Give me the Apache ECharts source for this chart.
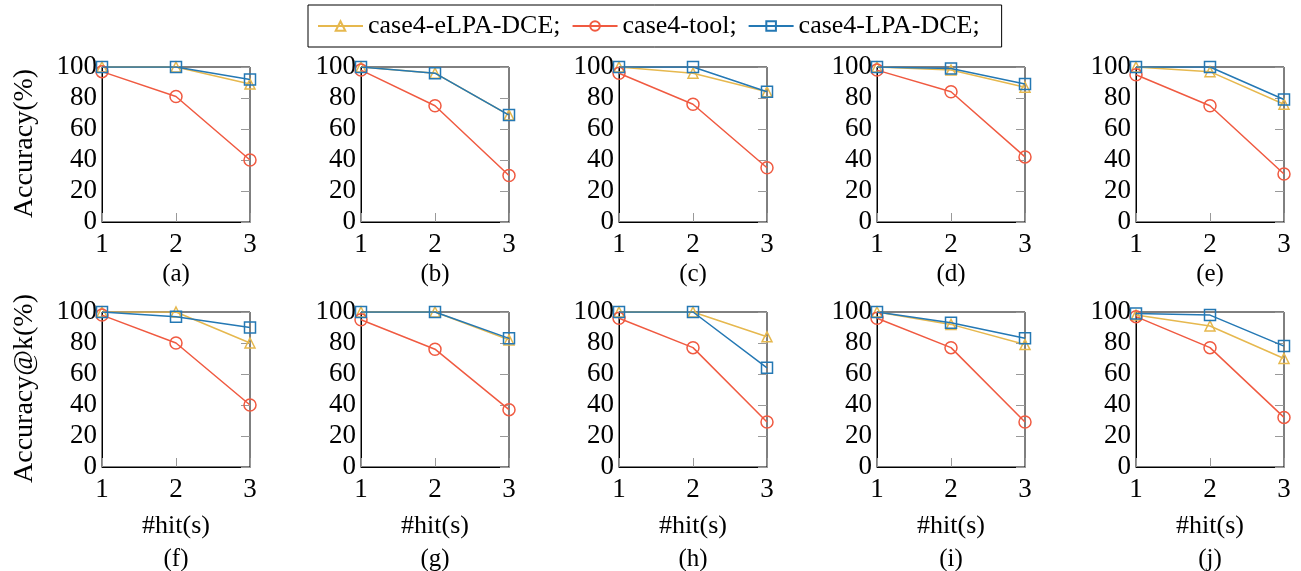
<!DOCTYPE html>
<html>
<head>
<meta charset="utf-8">
<script src="https://cdn.jsdelivr.net/npm/echarts@6/dist/echarts.min.js"></script>
<style>
html,body{margin:0;padding:0;background:#fff;}
#chart{width:1301px;height:571px;}
</style>
</head>
<body>
<div id="chart"></div>
<script>
// ---- data ----
const hits = [1, 2, 3];
const panelLabels = ['(a)', '(b)', '(c)', '(d)', '(e)', '(f)', '(g)', '(h)', '(i)', '(j)'];
const seriesNames = ['case4-eLPA-DCE;', 'case4-tool;', 'case4-LPA-DCE;'];
const yNames = ['Accuracy(%)', 'Accuracy@k(%)'];
const xName = '#hit(s)';
const yTicks = [0, 20, 40, 60, 80, 100];
const eLPA = [
  [100, 100, 89], [100, 96, 69], [100, 96, 84], [100, 98, 87], [100, 97, 76],
  [100, 100, 80], [100, 100, 82], [100, 100, 84], [100, 92, 79], [98, 91, 70]
];
const tool = [
  [97, 81, 40], [98, 75, 30], [96, 76, 35], [98, 84, 42], [95, 75, 31],
  [98, 80, 40], [95, 76, 37], [96, 77, 29], [96, 77, 29], [97, 77, 32]
];
const lpa = [
  [100, 100, 92], [100, 96, 69], [100, 100, 84], [100, 99, 89], [100, 100, 79],
  [100, 97, 90], [100, 100, 83], [100, 100, 64], [100, 93, 83], [99, 98, 78]
];

// ---- layout / style ----
const colors = ['#E6B84E', '#F05A41', '#2478B4'];
const symbols = ['triangle', 'circle', 'rect'];
const symSizes = [10, 12, 11];
const serif = '"Liberation Serif", "DejaVu Serif", serif';
const lefts = [102, 361, 619, 877, 1136];
const gW = 148, gH = 155;
const tops = [67, 312];

const grids = [], xAxes = [], yAxes = [], series = [], titles = [], graphics = [];
for (let i = 0; i < 10; i++) {
  const r = Math.floor(i / 5), c = i % 5;
  grids.push({left: lefts[c], top: tops[r], width: gW, height: gH,
    show: true, borderColor: '#000', borderWidth: 1, containLabel: false});
  xAxes.push({
    gridIndex: i, type: 'value', min: 1, max: 3, interval: 1,
    axisLine: {show: true, onZero: false, lineStyle: {color: '#000', width: 1}},
    axisTick: {show: true, inside: true, length: 9, lineStyle: {color: '#999', width: 1}},
    axisLabel: {fontFamily: serif, fontSize: 27, color: '#000', margin: 9},
    splitLine: {show: false},
    name: r === 1 ? xName : '',
    nameLocation: 'middle', nameGap: 46,
    nameTextStyle: {fontFamily: serif, fontSize: 26, color: '#000'}
  });
  yAxes.push({
    gridIndex: i, type: 'value', min: 0, max: 100, interval: 20,
    axisLine: {show: true, onZero: false, lineStyle: {color: '#000', width: 1}},
    axisTick: {show: false},
    axisLabel: {fontFamily: serif, fontSize: 27, color: '#000', margin: 5,
      formatter: v => yTicks.includes(v) ? String(v) : ''},
    splitLine: {show: false}
  });
  // mirrored right-side ticks
  yAxes.push({
    gridIndex: i, type: 'value', min: 0, max: 100, interval: 20, position: 'right',
    axisLine: {show: false},
    axisTick: {show: true, inside: true, length: 9, lineStyle: {color: '#999', width: 1}},
    axisLabel: {show: false}, splitLine: {show: false}
  });
  const sets = [eLPA[i], tool[i], lpa[i]];
  for (let s = 0; s < 3; s++) {
    series.push({
      name: seriesNames[s], type: 'line', xAxisIndex: i, yAxisIndex: 2 * i,
      data: hits.map((h, k) => [h, sets[s][k]]),
      symbol: symbols[s], symbolSize: symSizes[s],
      lineStyle: {color: colors[s], width: 1.5},
      itemStyle: {color: 'rgba(255,255,255,0)', borderColor: colors[s], borderWidth: 1.5},
      z: 2 + s, animation: false
    });
  }
  titles.push({
    text: panelLabels[i], left: lefts[c] + gW / 2, textAlign: 'center',
    top: r === 0 ? 262 : 547, padding: 0,
    textStyle: {fontFamily: serif, fontSize: 25, fontWeight: 'normal', color: '#000'}
  });
}
for (let r = 0; r < 2; r++) {
  graphics.push({
    type: 'text', x: 25, y: tops[r] + gH / 2 - 1, rotation: Math.PI / 2,
    style: {text: yNames[r], fill: '#000', font: '28px ' + serif,
      textAlign: 'center', textVerticalAlign: 'middle'}
  });
}

const chart = echarts.init(document.getElementById('chart'), null, {renderer: 'canvas'});
chart.setOption({
  backgroundColor: '#fff',
  animation: false,
  title: titles,
  graphic: graphics,
  legend: {
    data: seriesNames,
    left: 308, top: 5,
    orient: 'horizontal',
    itemWidth: 45, itemHeight: 12, itemGap: 11,
    padding: [8, 22, 8, 9],
    borderColor: '#000', borderWidth: 1,
    textStyle: {fontFamily: serif, fontSize: 26, color: '#000'}
  },
  grid: grids,
  xAxis: xAxes,
  yAxis: yAxes,
  series: series
});
</script>
</body>
</html>
